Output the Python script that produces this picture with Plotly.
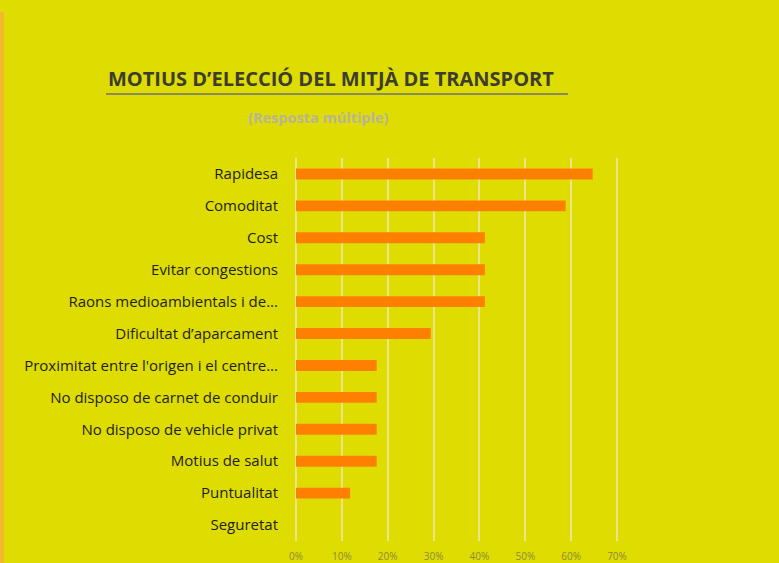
import plotly.graph_objects as go

categories = ["Rapidesa", "Comoditat", "Cost", "Evitar congestions",
              "Raons medioambientals i de...", "Dificultat d’aparcament",
              "Proximitat entre l'origen i el centre...", "No disposo de carnet de conduir",
              "No disposo de vehicle privat", "Motius de salut", "Puntualitat", "Seguretat"]
values = [0.647, 0.588, 0.412, 0.412, 0.412, 0.294, 0.176, 0.176, 0.176, 0.176, 0.118, 0.0]
tick_vals = [0, 0.1, 0.2, 0.3, 0.4, 0.5, 0.6, 0.7]
tick_text = ["0%", "10%", "20%", "30%", "40%", "50%", "60%", "70%"]

W, H = 779, 563
X0, X1 = 296, 617          # pixel of 0% and 70%
PAD = 3                     # pixels of padding so edge gridlines show
L, R, T, B = X0 - PAD, X1 + PAD, 158, 541
unit = 0.7 / (X1 - X0)

def px(x):
    return (x - L) / (R - L)

def py(y):
    return (B - y) / (B - T)

fig = go.Figure(go.Bar(
    x=values, y=categories, orientation="h",
    marker=dict(color="#FF8000", line=dict(width=0)),
    width=0.34,
))

fig.update_layout(
    width=W, height=H,
    paper_bgcolor="#DEDC00", plot_bgcolor="#DEDC00",
    margin=dict(l=L, r=W - R, t=T, b=H - B),
    showlegend=False,
    font=dict(family="Open Sans, sans-serif"),
    xaxis=dict(range=[-PAD * unit, 0.7 + PAD * unit], tickvals=tick_vals, ticktext=tick_text,
               showgrid=True, gridcolor="#ECE488", gridwidth=2,
               zeroline=False, showline=False, automargin=False,
               tickfont=dict(size=10, color="#8C8A3C"), ticklabelstandoff=8),
    yaxis=dict(autorange="reversed", showgrid=False,
               zeroline=False, showline=False, automargin=False,
               tickfont=dict(size=15, color="#1E1E1E"), ticklabelstandoff=17 - PAD),
    annotations=[
        dict(text="<b>MOTIUS D’ELECCIÓ DEL MITJÀ DE TRANSPORT</b>", xref="paper", yref="paper",
             x=px(331), y=py(78), xanchor="center", yanchor="middle", showarrow=False,
             font=dict(size=20, color="#3C3C30")),
        dict(text="<b>(Resposta múltiple)</b>", xref="paper", yref="paper",
             x=px(318), y=py(117), xanchor="center", yanchor="middle", showarrow=False,
             font=dict(size=14.5, color="#B8B49A")),
    ],
    shapes=[
        dict(type="line", xref="paper", yref="paper", x0=px(106), x1=px(568),
             y0=py(94), y1=py(94), line=dict(color="#8A8A60", width=2)),
        dict(type="rect", xref="paper", yref="paper", x0=px(0), x1=px(4),
             y0=py(12), y1=py(563), fillcolor="#F2B830", line=dict(width=0)),
    ],
)

fig.write_html("out.html", config={"displayModeBar": False},
               post_script="document.body.style.margin='0';")
